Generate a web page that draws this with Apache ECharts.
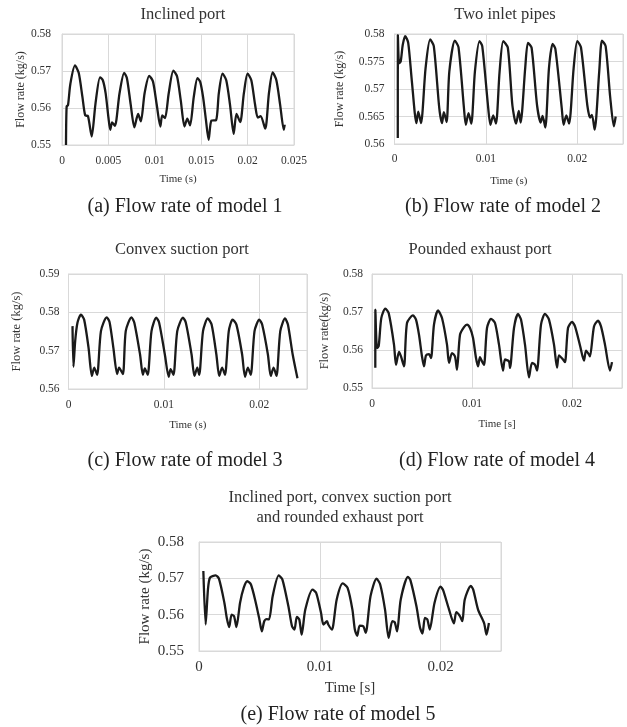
<!DOCTYPE html>
<html><head><meta charset="utf-8">
<script src="https://cdn.jsdelivr.net/npm/echarts@6/dist/echarts.min.js"></script>
<style>html,body{margin:0;padding:0;background:#fff}#c{width:627px;height:727px}</style>
</head><body><div id="c"></div>
<script>
// ---- Data ----
const timeM1 = [0.00043,0.0005,0.00065,0.0009,0.0014,0.0018,0.0022,0.0025,0.0028,0.0032,0.0036,0.0041,0.0044,0.0047,0.0050,0.0052,0.0054,0.0057,0.0062,0.0067,0.0070,0.0074,0.0078,0.0082,0.0085,0.0089,0.0094,0.0098,0.0102,0.0106,0.0108,0.0111,0.0115,0.0120,0.0124,0.0128,0.0132,0.0135,0.0138,0.0142,0.0146,0.0149,0.0152,0.0155,0.0158,0.0161,0.0166,0.0169,0.0173,0.0177,0.0181,0.0185,0.0188,0.0192,0.0196,0.0200,0.0204,0.0208,0.0211,0.0214,0.0219,0.0223,0.0227,0.0231,0.0235,0.0239,0.0240];
const flowM1 = [0.5500,0.5604,0.5608,0.5665,0.5715,0.5695,0.5630,0.5580,0.5578,0.5523,0.5610,0.5683,0.5675,0.5640,0.5575,0.5541,0.5561,0.5552,0.5640,0.5695,0.5680,0.5610,0.5548,0.5584,0.5564,0.5640,0.5687,0.5672,0.5610,0.5550,0.5580,0.5573,0.5640,0.5701,0.5685,0.5620,0.5550,0.5571,0.5553,0.5630,0.5681,0.5670,0.5630,0.5570,0.5514,0.5566,0.5567,0.5640,0.5693,0.5675,0.5610,0.5530,0.5584,0.5562,0.5640,0.5693,0.5675,0.5610,0.5574,0.5578,0.5544,0.5640,0.5696,0.5675,0.5610,0.5541,0.5555];

const timeM2 = [0.00036,0.00037,0.0005,0.00068,0.0009,0.00117,0.0015,0.0019,0.0024,0.0026,0.0029,0.0034,0.0039,0.0043,0.0049,0.0052,0.0054,0.0057,0.0060,0.0066,0.0070,0.0076,0.0078,0.0081,0.0084,0.0088,0.0093,0.0096,0.0102,0.0105,0.0108,0.0111,0.0115,0.0119,0.0124,0.0129,0.0133,0.0136,0.0138,0.0143,0.0146,0.0150,0.0156,0.0160,0.0162,0.0165,0.0169,0.0173,0.0176,0.0183,0.0185,0.0188,0.0191,0.0196,0.0200,0.0204,0.0211,0.0214,0.0216,0.0219,0.0224,0.0227,0.0231,0.0236,0.0240,0.0242];
const flowM2 = [0.5611,0.5798,0.5747,0.5750,0.5780,0.5796,0.5784,0.5714,0.5638,0.5659,0.5638,0.5738,0.5790,0.5778,0.5665,0.5638,0.5658,0.5640,0.5732,0.5788,0.5776,0.5665,0.5635,0.5656,0.5637,0.5732,0.5787,0.5778,0.5675,0.5635,0.5652,0.5637,0.5732,0.5787,0.5775,0.5670,0.5637,0.5660,0.5639,0.5738,0.5784,0.5775,0.5670,0.5639,0.5651,0.5630,0.5738,0.5782,0.5773,0.5665,0.5635,0.5652,0.5637,0.5738,0.5787,0.5776,0.5670,0.5648,0.5653,0.5626,0.5732,0.5788,0.5778,0.5685,0.5632,0.5650];

const timeM3 = [0.00042,0.00052,0.0007,0.00094,0.0013,0.00164,0.0021,0.00245,0.0027,0.0030,0.0034,0.0040,0.0043,0.0047,0.0051,0.0053,0.0057,0.0060,0.0066,0.0069,0.0075,0.0078,0.0080,0.0083,0.0087,0.0092,0.0095,0.0101,0.0105,0.0107,0.0110,0.0114,0.0120,0.0123,0.0129,0.0132,0.0135,0.0137,0.0141,0.0146,0.0150,0.0155,0.0158,0.0161,0.0164,0.0168,0.0172,0.0176,0.0182,0.0185,0.0188,0.0191,0.0195,0.0200,0.0203,0.0209,0.0212,0.0215,0.0218,0.0222,0.0227,0.0230,0.0235,0.0240];
const flowM3 = [0.5764,0.5658,0.5725,0.5773,0.5794,0.5781,0.5708,0.5634,0.5656,0.5637,0.5751,0.5787,0.5775,0.5708,0.5639,0.5656,0.5639,0.5751,0.5787,0.5773,0.5690,0.5637,0.5654,0.5637,0.5751,0.5786,0.5773,0.5690,0.5632,0.5652,0.5637,0.5751,0.5786,0.5773,0.5690,0.5634,0.5656,0.5637,0.5751,0.5784,0.5768,0.5690,0.5634,0.5656,0.5637,0.5751,0.5781,0.5768,0.5690,0.5632,0.5656,0.5637,0.5751,0.5781,0.5768,0.5690,0.5634,0.5656,0.5634,0.5751,0.5784,0.5768,0.5690,0.5628];

const timeM4 = [0.00033,0.00034,0.0005,0.00067,0.00093,0.00133,0.00167,0.0022,0.0024,0.0027,0.0029,0.0032,0.0035,0.0041,0.0044,0.0047,0.0050,0.0052,0.0054,0.0057,0.0059,0.0062,0.0066,0.0070,0.0075,0.0077,0.0080,0.0083,0.0085,0.0088,0.0092,0.0095,0.0098,0.0101,0.0104,0.0106,0.0108,0.0110,0.0112,0.0115,0.0119,0.0123,0.0127,0.0131,0.0133,0.0137,0.0138,0.0142,0.0146,0.0149,0.0153,0.0157,0.0160,0.0163,0.0165,0.0169,0.0173,0.0177,0.0182,0.0185,0.0187,0.0191,0.0193,0.0196,0.0200,0.0203,0.0208,0.0212,0.0214,0.0217,0.0218,0.0222,0.0226,0.0229,0.0233,0.0238,0.0240];
const flowM4 = [0.5553,0.5706,0.5605,0.5610,0.5684,0.5709,0.5697,0.5614,0.5561,0.5595,0.5583,0.5557,0.5671,0.5691,0.5680,0.5640,0.5583,0.5557,0.5586,0.5589,0.5579,0.5667,0.5704,0.5684,0.5614,0.5566,0.5592,0.5583,0.5548,0.5640,0.5660,0.5667,0.5658,0.5632,0.5579,0.5557,0.5581,0.5570,0.5561,0.5658,0.5682,0.5671,0.5614,0.5546,0.5575,0.5570,0.5553,0.5658,0.5695,0.5680,0.5614,0.5528,0.5566,0.5561,0.5546,0.5667,0.5695,0.5680,0.5614,0.5554,0.5586,0.5575,0.5568,0.5658,0.5674,0.5662,0.5612,0.5572,0.5598,0.5588,0.5583,0.5662,0.5677,0.5662,0.5614,0.5546,0.5568];

const timeM5 = [0.00036,0.00055,0.00074,0.00091,0.00138,0.00165,0.0021,0.0023,0.0025,0.0027,0.0029,0.0031,0.0034,0.0037,0.0040,0.0043,0.0047,0.0050,0.0052,0.0054,0.0056,0.0058,0.0061,0.0066,0.0069,0.0074,0.0077,0.0079,0.0081,0.0083,0.0085,0.0088,0.0094,0.0097,0.0101,0.0103,0.0106,0.0107,0.0110,0.0114,0.0119,0.0123,0.0127,0.0129,0.0131,0.0133,0.0136,0.0138,0.0142,0.0147,0.0150,0.0154,0.0157,0.0160,0.0162,0.0164,0.0167,0.0173,0.0175,0.0180,0.0183,0.0185,0.0187,0.0189,0.0191,0.0195,0.0200,0.0202,0.0207,0.0211,0.0213,0.0216,0.0218,0.0220,0.0225,0.0227,0.0231,0.0236,0.0238,0.0240];
const flowM5 = [0.5720,0.5573,0.5669,0.5702,0.5708,0.5699,0.5633,0.5591,0.5566,0.5600,0.5596,0.5566,0.5633,0.5674,0.5692,0.5683,0.5633,0.5587,0.5554,0.5582,0.5588,0.5587,0.5651,0.5708,0.5697,0.5623,0.5568,0.5559,0.5594,0.5587,0.5545,0.5614,0.5669,0.5660,0.5605,0.5573,0.5582,0.5573,0.5559,0.5642,0.5686,0.5674,0.5614,0.5559,0.5542,0.5570,0.5568,0.5550,0.5651,0.5699,0.5683,0.5614,0.5536,0.5582,0.5579,0.5554,0.5642,0.5704,0.5695,0.5623,0.5564,0.5548,0.5591,0.5587,0.5559,0.5633,0.5677,0.5668,0.5614,0.5576,0.5607,0.5596,0.5582,0.5642,0.5679,0.5669,0.5614,0.5577,0.5545,0.5577];

const panelTitles = ['Inclined port','Two inlet pipes','Convex suction port','Pounded exhaust port','Inclined port, convex suction port\nand rounded exhaust port'];
const captions = ['(a) Flow rate of model 1','(b) Flow rate of model 2','(c) Flow rate of model 3','(d) Flow rate of model 4','(e) Flow rate of model 5'];
const xNames = ['Time (s)','Time (s)','Time (s)','Time [s]','Time [s]'];
const yNames = ['Flow rate (kg/s)','Flow rate (kg/s)','Flow rate (kg/s)','Flow rate(kg/s)','Flow rate (kg/s)'];
const xMin = [0,0,0,0,0], xMax = [0.025,0.025,0.025,0.025,0.025], xStep = [0.005,0.01,0.01,0.01,0.01];
const yMin = [0.55,0.56,0.56,0.55,0.55], yMax = [0.58,0.58,0.59,0.58,0.58], yStep = [0.01,0.005,0.01,0.01,0.01];

// ---- Layout ----
const grids = [
  {left:62, top:34, width:232, height:111},
  {left:394.5, top:34, width:228.5, height:110},
  {left:68.5, top:274, width:238.5, height:115},
  {left:372, top:274, width:250, height:114},
  {left:199, top:542, width:302, height:109}
];
const tickFont = [11.5,11.5,11.5,11.5,15];
const xNameFont = [11,11,11,11,15];
const yNameFont = [12,12,12.5,12.5,15];
const xNameGap = [29,32,30.5,31,29.5];
const yNameGap = [34,49,45,40.5,46.5];
const xLabMargin = [10,9,10,10,9];
const yLabMargin = [11,10,9,9,15];
const titlePos = [[183,15],[505,15],[182,250],[480,250],[340,508]];
const capPos = [[185,207],[503,207],[185,461],[497,461],[338,715]];

const times = [timeM1,timeM2,timeM3,timeM4,timeM5];
const flows = [flowM1,flowM2,flowM3,flowM4,flowM5];
const FONT = '"Liberation Serif","Times New Roman",serif';
const fmt = v => String(parseFloat(v.toFixed(4)));

const option = {
  animation:false,
  backgroundColor:'#fff',
  grid: grids.map(g => Object.assign({show:true, borderColor:'#d9d9d9', borderWidth:1, containLabel:false}, g)),
  xAxis: grids.map((g,i) => ({
    type:'value', gridIndex:i, min:xMin[i], max:xMax[i], interval:xStep[i],
    name:xNames[i], nameLocation:'middle', nameGap:xNameGap[i],
    nameTextStyle:{fontFamily:FONT, fontSize:xNameFont[i], color:'#333'},
    axisLine:{show:true, lineStyle:{color:'#d9d9d9'}}, axisTick:{show:false},
    splitLine:{show:true, lineStyle:{color:'#d9d9d9'}},
    axisLabel:{fontFamily:FONT, fontSize:tickFont[i], color:'#333', margin:xLabMargin[i], formatter:fmt, showMaxLabel: i===0}
  })),
  yAxis: grids.map((g,i) => ({
    type:'value', gridIndex:i, min:yMin[i], max:yMax[i], interval:yStep[i],
    name:yNames[i], nameLocation:'middle', nameGap:yNameGap[i], nameRotate:90,
    nameTextStyle:{fontFamily:FONT, fontSize:yNameFont[i], color:'#333'},
    axisLine:{show:true, lineStyle:{color:'#d9d9d9'}}, axisTick:{show:false},
    splitLine:{show:true, lineStyle:{color:'#d9d9d9'}},
    axisLabel:{fontFamily:FONT, fontSize:tickFont[i], color:'#333', margin:yLabMargin[i], formatter:fmt}
  })),
  series: grids.map((g,i) => ({
    type:'line', xAxisIndex:i, yAxisIndex:i, showSymbol:false, smooth:0.25, clip:true,
    lineStyle:{color:'#1a1a1a', width:2.3},
    data: times[i].map((t,k) => [t, flows[i][k]])
  })),
  graphic: [
    ...panelTitles.map((t,i) => ({type:'text', x:titlePos[i][0], y:titlePos[i][1],
      style:{text:t, font:'16.5px '+FONT, fill:'#333', align:'center', verticalAlign:'middle', lineHeight:20}})),
    ...captions.map((t,i) => ({type:'text', x:capPos[i][0], y:capPos[i][1],
      style:{text:t, font:'20px '+FONT, fill:'#222', align:'center', verticalAlign:'middle'}}))
  ]
};
const chart = echarts.init(document.getElementById('c'), null, {renderer:'canvas'});
chart.setOption(option);
</script></body></html>
